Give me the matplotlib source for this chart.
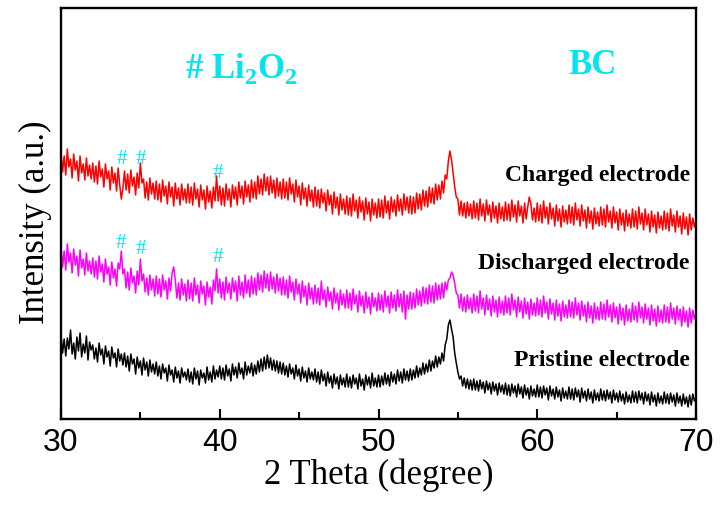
"""
XRD patterns of pristine, discharged and charged BC electrodes
"""

### Import modules
import numpy as np
import matplotlib
matplotlib.use('Agg')
import matplotlib.pyplot as plt

### Data (2 theta from 30 to 70 in 0.1 degree steps, intensity in a.u.)
theta = np.round(np.arange(300, 701) / 10., 1)

pristine = [
    84, 66, 80, 63, 81, 70, 89, 65, 76, 60, 82, 68, 86, 62, 75, 66, 83, 59, 77, 69,
    74, 60, 71, 57, 76, 64, 70, 55, 73, 62, 68, 53, 72, 61, 66, 52, 70, 58, 65, 54,
    66, 52, 63, 48, 65, 55, 60, 45, 62, 51, 58, 44, 61, 49, 57, 43, 59, 47, 55, 45,
    57, 43, 53, 40, 55, 46, 51, 38, 54, 44, 49, 37, 52, 41, 48, 36, 51, 42, 47, 39,
    50, 37, 47, 35, 51, 40, 48, 34, 49, 41, 46, 36, 52, 39, 47, 37, 53, 40, 49, 42,
    53, 40, 51, 39, 54, 43, 50, 38, 55, 44, 52, 41, 56, 45, 51, 40, 57, 44, 53, 46,
    56, 43, 54, 45, 58, 47, 60, 48, 62, 50, 64, 51, 61, 49, 59, 48, 58, 46, 57, 45,
    56, 44, 53, 42, 55, 45, 51, 40, 54, 43, 50, 38, 52, 41, 48, 37, 51, 40, 47, 39,
    50, 37, 47, 35, 49, 38, 45, 33, 47, 36, 43, 31, 45, 35, 42, 30, 44, 34, 41, 32,
    45, 32, 42, 31, 44, 35, 41, 30, 45, 33, 40, 29, 44, 34, 42, 31, 46, 33, 41, 32,
    44, 32, 43, 34, 46, 35, 44, 33, 47, 37, 45, 35, 49, 38, 47, 36, 50, 39, 48, 38,
    50, 39, 49, 41, 53, 42, 51, 44, 56, 45, 55, 47, 59, 48, 58, 51, 63, 52, 62, 55,
    66, 58, 74, 80, 94, 99, 90, 82, 66, 56, 47, 40, 43, 33, 41, 31, 40, 30, 39, 29,
    40, 29, 38, 28, 39, 30, 37, 26, 38, 29, 36, 25, 37, 28, 35, 24, 36, 27, 34, 25,
    36, 24, 34, 23, 35, 26, 33, 22, 35, 25, 32, 21, 34, 24, 31, 20, 33, 23, 30, 22,
    34, 22, 32, 21, 33, 24, 31, 19, 33, 23, 30, 20, 32, 22, 29, 18, 31, 21, 28, 20,
    32, 20, 30, 19, 31, 22, 29, 17, 31, 21, 28, 18, 30, 20, 27, 16, 29, 19, 26, 18,
    30, 19, 28, 18, 29, 20, 27, 16, 29, 19, 26, 17, 28, 18, 25, 15, 27, 17, 24, 16,
    28, 17, 27, 16, 28, 19, 26, 15, 27, 18, 25, 14, 27, 17, 24, 13, 26, 16, 23, 15,
    27, 16, 25, 15, 26, 17, 24, 13, 26, 16, 23, 13, 25, 15, 22, 12, 24, 14, 25, 18,
    21]

discharged = [
    172, 152, 168, 149, 175, 157, 166, 146, 170, 154, 163, 143, 169, 151, 160, 144, 166, 148, 158, 145,
    161, 142, 158, 140, 163, 147, 155, 137, 160, 145, 152, 134, 157, 141, 150, 133, 156, 150, 168, 145,
    150, 131, 147, 129, 151, 136, 143, 126, 148, 134, 160, 138, 145, 127, 141, 124, 144, 129, 140, 123,
    143, 125, 140, 122, 144, 129, 138, 120, 141, 128, 146, 152, 139, 121, 136, 119, 140, 124, 135, 118,
    139, 120, 136, 118, 141, 124, 134, 116, 138, 125, 133, 114, 137, 122, 132, 115, 139, 128, 150, 126,
    140, 121, 137, 119, 142, 126, 136, 120, 141, 127, 138, 118, 143, 124, 137, 121, 144, 126, 139, 122,
    143, 125, 141, 124, 146, 129, 144, 127, 148, 131, 145, 128, 147, 130, 142, 126, 145, 128, 141, 124,
    142, 124, 139, 121, 143, 127, 137, 119, 140, 125, 135, 116, 138, 122, 133, 114, 136, 120, 131, 115,
    134, 116, 131, 114, 138, 119, 129, 112, 132, 118, 127, 110, 131, 116, 126, 109, 129, 114, 125, 111,
    129, 111, 126, 109, 130, 115, 124, 107, 128, 113, 123, 106, 127, 111, 122, 105, 126, 112, 121, 108,
    126, 109, 124, 107, 128, 112, 123, 106, 127, 111, 124, 108, 129, 112, 125, 107, 128, 100, 124, 110,
    127, 110, 126, 111, 130, 114, 128, 113, 132, 116, 131, 115, 134, 117, 133, 116, 136, 119, 134, 120,
    136, 121, 137, 129, 139, 141, 147, 144, 136, 126, 124, 111, 125, 108, 122, 107, 124, 110, 121, 106,
    125, 108, 123, 106, 128, 110, 121, 104, 124, 109, 120, 103, 123, 107, 119, 102, 122, 106, 118, 104,
    123, 106, 121, 104, 125, 109, 119, 102, 122, 107, 118, 101, 121, 105, 117, 100, 120, 104, 116, 103,
    121, 104, 119, 102, 123, 106, 117, 100, 120, 105, 116, 99, 119, 103, 115, 98, 118, 102, 114, 101,
    119, 102, 117, 101, 121, 104, 116, 99, 118, 103, 114, 97, 117, 101, 113, 96, 116, 100, 112, 99,
    117, 100, 115, 99, 119, 102, 114, 97, 116, 101, 112, 95, 115, 99, 111, 94, 114, 98, 110, 97,
    116, 99, 113, 97, 117, 101, 112, 96, 115, 100, 111, 94, 114, 98, 110, 93, 113, 97, 109, 96,
    114, 97, 112, 96, 116, 100, 111, 95, 113, 99, 110, 93, 112, 97, 108, 92, 111, 96, 109, 100,
    105]

charged = [
    267, 247, 263, 244, 270, 252, 260, 241, 265, 249, 258, 238, 263, 246, 255, 239, 261, 243, 254, 240,
    256, 237, 253, 235, 258, 242, 250, 232, 255, 240, 248, 229, 252, 236, 246, 228, 251, 234, 220, 231,
    248, 229, 245, 226, 249, 233, 242, 224, 246, 231, 256, 236, 240, 221, 237, 219, 241, 225, 236, 220,
    238, 219, 235, 217, 239, 223, 233, 215, 237, 222, 232, 213, 236, 220, 231, 214, 235, 219, 230, 216,
    235, 216, 232, 214, 236, 220, 230, 212, 234, 219, 229, 210, 233, 217, 228, 211, 232, 218, 243, 218,
    233, 214, 231, 213, 235, 219, 230, 212, 234, 220, 232, 214, 237, 221, 233, 215, 238, 222, 234, 217,
    239, 221, 237, 220, 243, 225, 240, 224, 245, 228, 242, 224, 243, 226, 239, 221, 241, 223, 237, 220,
    240, 221, 237, 219, 241, 225, 235, 217, 239, 222, 233, 214, 236, 220, 231, 213, 234, 218, 229, 212,
    232, 213, 229, 211, 230, 216, 226, 208, 229, 214, 224, 205, 227, 211, 222, 204, 225, 209, 220, 205,
    223, 204, 221, 203, 225, 208, 219, 201, 222, 207, 218, 199, 221, 205, 217, 198, 220, 204, 216, 201,
    220, 202, 219, 201, 223, 206, 218, 200, 222, 207, 219, 203, 224, 208, 220, 204, 225, 209, 222, 206,
    223, 205, 222, 206, 226, 210, 225, 209, 229, 213, 228, 212, 232, 216, 231, 215, 235, 219, 234, 220,
    238, 226, 244, 240, 258, 268, 259, 246, 232, 222, 220, 204, 218, 203, 216, 201, 217, 203, 215, 200,
    218, 201, 216, 199, 220, 203, 215, 198, 219, 204, 214, 197, 217, 201, 213, 196, 216, 200, 212, 198,
    217, 199, 215, 198, 219, 202, 214, 197, 218, 203, 213, 196, 216, 200, 212, 222, 215, 199, 211, 197,
    216, 198, 214, 196, 218, 201, 212, 195, 216, 200, 211, 193, 214, 198, 210, 192, 213, 197, 209, 195,
    214, 196, 212, 194, 216, 199, 210, 193, 214, 198, 209, 191, 212, 196, 208, 190, 211, 195, 207, 193,
    212, 194, 210, 192, 214, 197, 208, 191, 212, 196, 207, 189, 210, 194, 206, 188, 209, 193, 205, 191,
    210, 192, 208, 190, 212, 195, 206, 189, 210, 194, 205, 187, 208, 192, 204, 186, 207, 191, 203, 189,
    208, 190, 206, 188, 210, 193, 204, 187, 208, 192, 203, 185, 206, 190, 202, 184, 205, 189, 201, 192,
    198]

### Curve labels and Li2O2 marks
labels = ['Pristine electrode', 'Discharged electrode', 'Charged electrode']
label_y = [59, 157, 245]
hash_x = [33.8, 35.0, 39.9, 33.75, 35.05, 39.9]
hash_y = [260, 260, 247, 177, 170, 163]

###############################################################################
### Plot figure
plt.rcParams['mathtext.fontset'] = 'custom'
plt.rcParams['mathtext.rm'] = 'Liberation Serif:bold'
plt.rcParams['mathtext.bf'] = 'Liberation Serif:bold'

fig = plt.figure(figsize=(7.2, 5.06), dpi=100)
ax = fig.add_axes([61/720., 86/506., 635/720., 411/506.])

ax.plot(theta, pristine, color='black', linewidth=1.1)
ax.plot(theta, discharged, color='#ff00ff', linewidth=1.1)
ax.plot(theta, charged, color='#ff0000', linewidth=1.1)

for s in ax.spines.values():
    s.set_linewidth(1.7)

ax.set_xlim([30, 70])
ax.set_ylim([0, 411])
ax.set_xticks(np.arange(30, 71, 10))
ax.set_xticks(np.arange(35, 70, 10), minor=True)
ax.set_yticks([])
ax.tick_params('x', which='major', direction='in', length=7, width=1.5,
               labelsize=23, pad=6)
ax.tick_params('x', which='minor', direction='in', length=5, width=1.5)
for lab in ax.get_xticklabels():
    lab.set_family('Liberation Sans')

ax.set_xlabel('2 Theta (degree)', family='Liberation Serif', fontsize=25,
              labelpad=0)
ax.set_ylabel('Intensity (a.u.)', family='Liberation Serif', fontsize=25)
ax.yaxis.set_label_coords(-0.014, 0.48)

for name, y in zip(labels, label_y):
    ax.text(69.6, y, name, family='Liberation Serif', fontweight='bold',
            fontsize=17, ha='right', va='center')

for x, y in zip(hash_x, hash_y):
    ax.text(x, y, '#', family='Liberation Serif', color='#00e5ee',
            fontsize=15, ha='center', va='center')

ax.text(37.8, 352, r'# Li$_\mathbf{2}$O$_\mathbf{2}$', family='Liberation Serif',
        fontweight='bold', color='#00e5ee', fontsize=25, ha='left',
        va='center')
ax.text(63.5, 355, 'BC', family='Liberation Serif', fontweight='bold',
        color='#00e5ee', fontsize=25, ha='center', va='center')

plt.savefig('out.png', dpi=100)
